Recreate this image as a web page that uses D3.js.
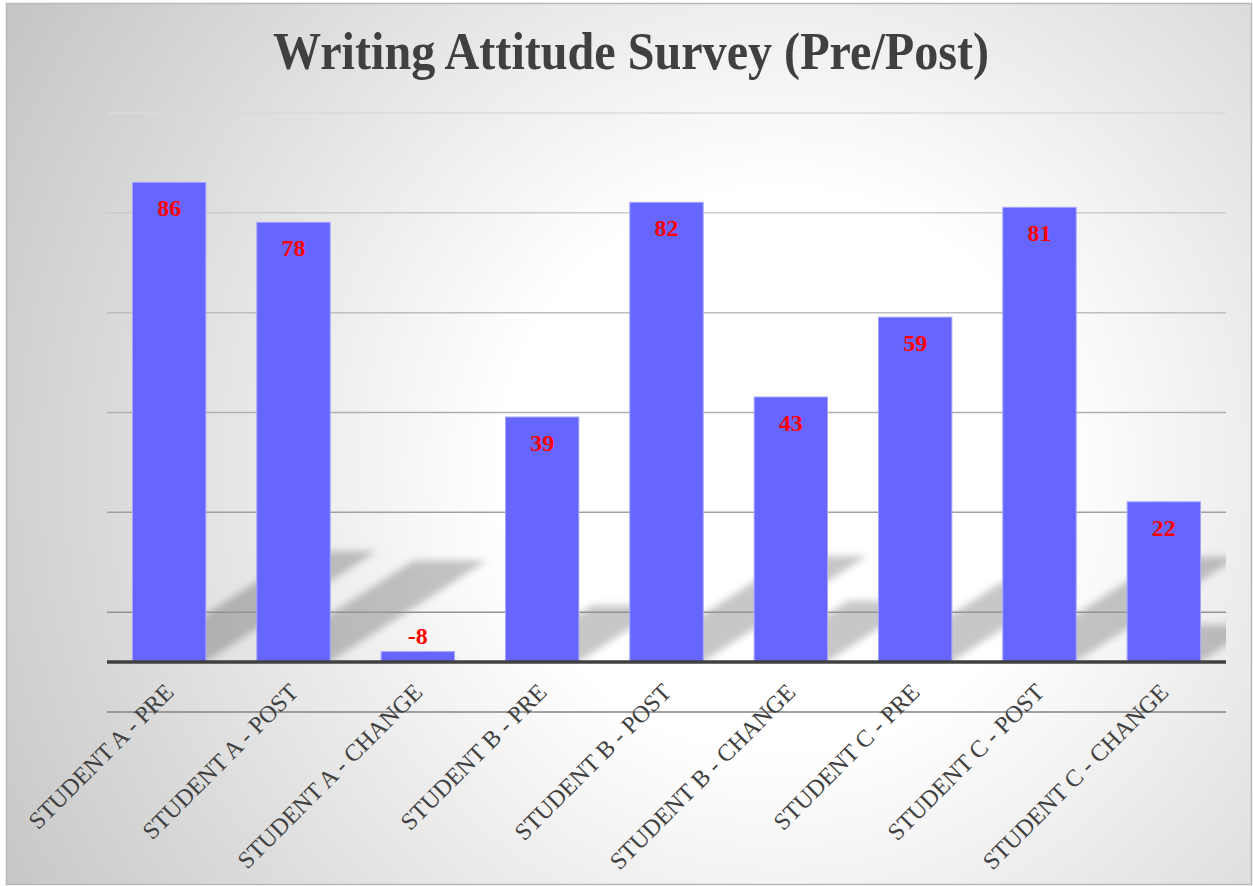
<!DOCTYPE html>
<html>
<head>
<meta charset="utf-8">
<script src="https://cdn.jsdelivr.net/npm/d3@7"></script>
<style>
  html, body { margin: 0; padding: 0; background: #ffffff; }
  svg { display: block; }
</style>
</head>
<body>
<svg id="chart" width="1253" height="886"></svg>
<script>
// ---- data ----
const title = "Writing Attitude Survey (Pre/Post)";
const categories = [
  "STUDENT A - PRE", "STUDENT A - POST", "STUDENT A - CHANGE",
  "STUDENT B - PRE", "STUDENT B - POST", "STUDENT B - CHANGE",
  "STUDENT C - PRE", "STUDENT C - POST", "STUDENT C - CHANGE"
];
const values = [86, 78, -8, 39, 82, 43, 59, 81, 22];
const yTicks = [-20, 0, 20, 40, 60, 80, 100];
const yDomain = [-20, 100];
const axisCrossesAt = -10;

// ---- layout ----
const W = 1253, H = 886;
const plot = { left: 107, right: 1226, top: 112.5, bottom: 711.5 };
const svg = d3.select("#chart");
const defs = svg.append("defs");

// background gradient
const bg = defs.append("radialGradient").attr("id", "bg")
  .attr("gradientUnits", "userSpaceOnUse")
  .attr("cx", 780).attr("cy", 470).attr("r", 930);
bg.append("stop").attr("offset", 0).attr("stop-color", "#ffffff");
bg.append("stop").attr("offset", 0.3).attr("stop-color", "#ffffff");
bg.append("stop").attr("offset", 1).attr("stop-color", "#c2c2c2");

defs.append("filter").attr("id", "blur").attr("x", "-20%").attr("y", "-20%").attr("width", "140%").attr("height", "140%")
  .append("feGaussianBlur").attr("stdDeviation", 3.5);

defs.append("clipPath").attr("id", "plotClip").append("rect")
  .attr("x", plot.left).attr("y", plot.top).attr("width", plot.right - plot.left).attr("height", 661 - plot.top);

svg.append("rect").attr("x", 6.5).attr("y", 3.5).attr("width", W - 8).attr("height", H - 5)
  .attr("fill", "url(#bg)").attr("stroke", "#b8b8b8").attr("stroke-width", 1.5);

// ---- scales ----
const x = d3.scaleBand().domain(categories).range([plot.left, plot.right])
  .paddingInner(0.41).paddingOuter(0.205);
const y = d3.scaleLinear().domain(yDomain).range([plot.bottom, plot.top]);
const bw = x.bandwidth();
const yBase = y(axisCrossesAt);

const data = categories.map((c, i) => ({ cat: c, v: values[i] }));

// ---- shadows ----
svg.append("g").attr("clip-path", "url(#plotClip)")
  .append("g").attr("filter", "url(#blur)")
  .selectAll("path").data(data).join("path")
  .attr("d", d => {
    const x0 = x(d.cat), x1 = x0 + bw;
    const h = yBase - y(d.v);
    const dy = 0.23 * h, dx = 1.55 * dy;
    return `M${x0},${yBase}L${x1},${yBase}L${x1 + dx},${yBase - dy}L${x0 + dx},${yBase - dy}Z`;
  })
  .attr("fill", "rgba(0,0,0,0.22)");

// ---- gridlines ----
const grid = svg.append("g").attr("transform", `translate(${plot.left},0)`)
  .call(d3.axisLeft(y).tickValues(yTicks).tickSize(-(plot.right - plot.left)).tickFormat(""));
grid.select(".domain").remove();
const gridColor = d3.scaleLinear().domain([100, -20]).range(["#dadada", "#858585"]);
grid.selectAll(".tick line").attr("stroke", d => gridColor(d)).attr("stroke-width", 1.5);

// ---- bars ----
svg.append("g").selectAll("rect").data(data).join("rect")
  .attr("x", d => x(d.cat))
  .attr("width", bw)
  .attr("y", d => Math.min(y(d.v), yBase))
  .attr("height", d => Math.abs(yBase - y(d.v)))
  .attr("fill", "#6666ff")
  .attr("stroke", "#a3a3ff").attr("stroke-width", 1);

// ---- baseline axis ----
svg.append("line").attr("x1", plot.left).attr("x2", plot.right)
  .attr("y1", yBase + 0.5).attr("y2", yBase + 0.5)
  .attr("stroke", "#404040").attr("stroke-width", 3.5);

// ---- data labels ----
svg.append("g").selectAll("text").data(data).join("text")
  .attr("x", d => x(d.cat) + bw / 2)
  .attr("y", d => d.v >= 0 ? y(d.v) + 34 : y(d.v) - 8)
  .attr("text-anchor", "middle")
  .attr("font-family", "'Liberation Serif', 'Times New Roman', serif")
  .attr("font-weight", "bold").attr("font-size", 24)
  .attr("fill", "#ff0000")
  .text(d => d.v);

// ---- x axis labels ----
const xa = svg.append("g").attr("transform", `translate(0,${yBase})`)
  .call(d3.axisBottom(x).tickSize(0).tickPadding(0));
xa.select(".domain").remove();
xa.selectAll(".tick text")
  .attr("font-family", "'Liberation Serif', 'Times New Roman', serif")
  .attr("font-size", 24)
  .attr("fill", "#404040")
  .attr("text-anchor", "end")
  .attr("dy", null)
  .attr("transform", "translate(6,32) rotate(-45)");

// ---- title ----
svg.append("text")
  .attr("x", 631).attr("y", 69)
  .attr("text-anchor", "middle")
  .attr("font-family", "'Liberation Serif', 'Times New Roman', serif")
  .attr("font-weight", "bold").attr("font-size", 52)
  .attr("textLength", 716).attr("lengthAdjust", "spacingAndGlyphs")
  .attr("fill", "#404040")
  .text(title);
</script>
</body>
</html>
